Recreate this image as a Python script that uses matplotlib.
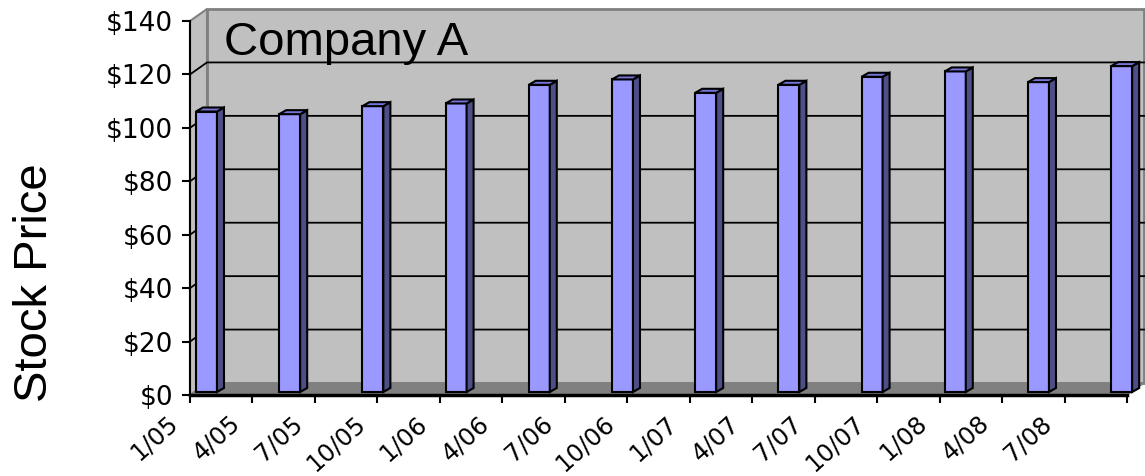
import numpy as np
import matplotlib.pyplot as plt
from matplotlib.patches import Polygon, Rectangle
from matplotlib.transforms import ScaledTranslation

# ------------------------------- DATA -----------------------------------
prices = [105, 104, 107, 108, 115, 117, 112, 115, 118, 120, 116, 122]
date_labels = ["1/05", "4/05", "7/05", "10/05", "1/06", "4/06", "7/06", "10/06",
               "1/07", "4/07", "7/07", "10/07", "1/08", "4/08", "7/08"]
y_ticks = [0, 20, 40, 60, 80, 100, 120, 140]

# ------------------------------- STYLE ----------------------------------
FRONT = "#9999FF"
SIDE = "#4F4F87"
TOP = "#7575DA"
WALL = "#C0C0C0"
FLOOR = "#808080"
BORDER = "#808080"

FIG_W, FIG_H = 1145, 476
L, R, T, B = 190, 1127, 21, 395          # front plane of the plot, in pixels
PXW, PXH = R - L, B - T
YMAX = y_ticks[-1]


def px_to_data(px_x, px_y, xspan):
    """Convert a pixel offset into data units of an axes spanning the front plane."""
    return px_x * xspan / PXW, px_y * YMAX / PXH


fig = plt.figure(figsize=(FIG_W / 100, FIG_H / 100), dpi=100)
rect = [L / FIG_W, 1 - B / FIG_H, PXW / FIG_W, PXH / FIG_H]

# --- axes with the category labels, walls and floor ---
ax = fig.add_axes(rect)
n_cat = len(date_labels)
ax.set_xlim(0, n_cat)
ax.set_ylim(0, YMAX)
ax.patch.set_visible(False)

DX, DY = px_to_data(17, 12, n_cat)       # depth of the 3D box

ax.add_patch(Rectangle((DX, DY), n_cat, YMAX, fc=WALL, ec=BORDER, lw=2,
                       clip_on=False, zorder=0.5))
ax.add_patch(Polygon([(0, 0), (DX, DY), (DX, YMAX + DY), (0, YMAX)], closed=True,
                     fc=WALL, ec=BORDER, lw=1.5, clip_on=False, zorder=0.6))
ax.add_patch(Polygon([(0, 0), (n_cat, 0), (n_cat + DX, DY), (DX, DY)], closed=True,
                     fc=FLOOR, ec=FLOOR, lw=1, clip_on=False, zorder=1))

for v in y_ticks[1:-1]:
    ax.plot([0, DX, n_cat + DX], [v, v + DY, v + DY], color="black", lw=1.3,
            clip_on=False, zorder=1.5)

ax.set_xticks(np.arange(n_cat + 1))
ax.set_xticklabels(date_labels + [""], rotation=42, ha="right", va="center",
                   rotation_mode="anchor")
ax.set_yticks(y_ticks)
ax.set_yticklabels([f"${v}" for v in y_ticks])
ax.tick_params(axis="both", direction="out", length=6, width=1.5, colors="black")
ax.tick_params(axis="x", pad=12, labelsize=17.5)
ax.tick_params(axis="y", pad=6, labelsize=19)
shift = ScaledTranslation(-16 / 100, 0, fig.dpi_scale_trans)
for lab in ax.get_xticklabels():
    lab.set_family("DejaVu Sans")
    lab.set_transform(lab.get_transform() + shift)
for lab in ax.get_yticklabels():
    lab.set_family("DejaVu Sans")

for side_name in ("top", "right"):
    ax.spines[side_name].set_visible(False)
ax.spines["left"].set_linewidth(1.5)
ax.spines["bottom"].set_linewidth(2.5)
ax.spines["left"].set_zorder(3)
ax.spines["bottom"].set_zorder(3)

# --- axes with the bars (own category scale) ---
ax2 = fig.add_axes(rect, zorder=ax.get_zorder() + 1)
bar_span = PXW / 83.2
ax2.set_xlim(-0.15, bar_span - 0.15)
ax2.set_ylim(0, YMAX)
ax2.axis("off")

centers = np.arange(len(prices))
BW = 21 / 83.2
fx, fy = px_to_data(4, 3, bar_span)      # bar front face depth
sx, sy = px_to_data(7, 4, bar_span)      # bar depth

ax2.bar(centers + fx, prices, width=BW, bottom=fy, color=FRONT,
        edgecolor="black", linewidth=1.5, clip_on=False, zorder=2)
for c, v in zip(centers, prices):
    x0 = c + fx - BW / 2
    x1 = c + fx + BW / 2
    top = v + fy
    ax2.add_patch(Polygon([(x1, fy), (x1 + sx, fy + sy), (x1 + sx, top + sy), (x1, top)],
                          closed=True, fc=SIDE, ec="black", lw=1.5, clip_on=False, zorder=2))
    ax2.add_patch(Polygon([(x0, top), (x1, top), (x1 + sx, top + sy), (x0 + sx, top + sy)],
                          closed=True, fc=TOP, ec="black", lw=1.5, clip_on=False, zorder=2))

# --- texts ---
fig.text(224 / FIG_W, 1 - 55 / FIG_H, "Company A", ha="left", va="baseline",
         fontsize=34, family="Liberation Sans")
fig.text(35 / FIG_W, 1 - 283 / FIG_H, "Stock Price", rotation=90, ha="center",
         va="center", fontsize=34, family="Liberation Sans")

fig.savefig("out.png", dpi=100)
plt.close(fig)
